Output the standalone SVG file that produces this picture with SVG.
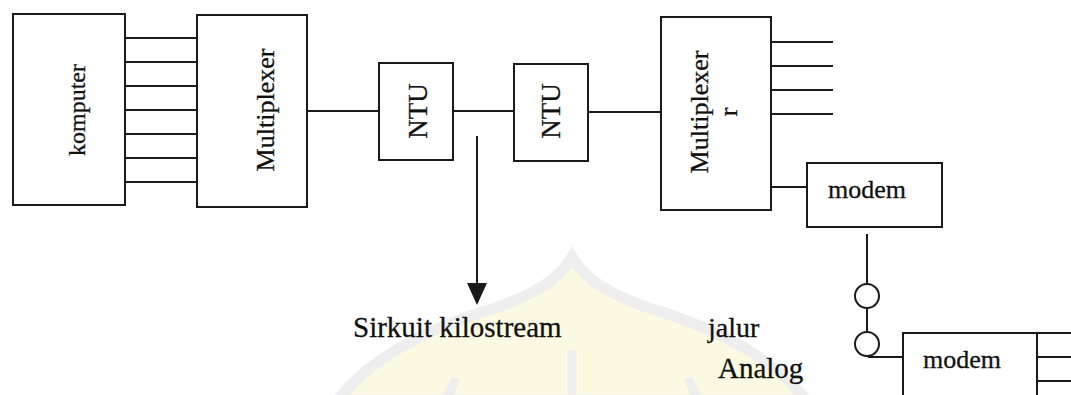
<svg xmlns="http://www.w3.org/2000/svg" width="1071" height="395" viewBox="0 0 1071 395">
  <style>
    .box { fill: none; stroke: #1a1a1a; stroke-width: 2; }
    .wire { fill: none; stroke: #1a1a1a; stroke-width: 2; }
    .head { fill: #1a1a1a; stroke: none; }
    .lbl { font-family: "Liberation Serif", "Times New Roman", serif; fill: #111; stroke: #111; stroke-width: 0.3; }
    .emblem-band { fill: #fcf9e2; stroke: #eeeeee; stroke-width: 11; }
    .emblem-line { fill: none; stroke: #eeeeee; stroke-width: 9; }
  </style>

  <rect width="1071" height="395" fill="#ffffff"/>

  <!-- faint background emblem -->
  <g id="emblem">
    <path class="emblem-band" d="M572 257 Q592 292 662 312 Q765 346 806 400 L338 400 Q379 346 482 312 Q552 292 572 257 Z"/>
    <line class="emblem-line" x1="572" y1="350" x2="572" y2="400"/>
    <line class="emblem-line" x1="456" y1="378" x2="446" y2="400"/>
    <line class="emblem-line" x1="688" y1="378" x2="698" y2="400"/>
  </g>

  <!-- connectors -->
  <g id="connectors">
    <!-- parallel lines komputer to multiplexer -->
    <line class="wire" x1="125" y1="38" x2="197" y2="38"/>
    <line class="wire" x1="125" y1="62" x2="197" y2="62"/>
    <line class="wire" x1="125" y1="86" x2="197" y2="86"/>
    <line class="wire" x1="125" y1="110" x2="197" y2="110"/>
    <line class="wire" x1="125" y1="134" x2="197" y2="134"/>
    <line class="wire" x1="125" y1="158" x2="197" y2="158"/>
    <line class="wire" x1="125" y1="182" x2="197" y2="182"/>
    <!-- trunk line through the NTUs -->
    <line class="wire" x1="307" y1="111" x2="379" y2="111"/>
    <line class="wire" x1="453" y1="111" x2="514" y2="111"/>
    <line class="wire" x1="588" y1="112" x2="661" y2="112"/>
    <!-- kilostream arrow -->
    <line class="wire" x1="477" y1="136" x2="477" y2="285"/>
    <polygon class="head" points="467,283 487,283 477,305"/>
    <!-- outputs of the far multiplexer -->
    <line class="wire" x1="771" y1="42" x2="833" y2="42"/>
    <line class="wire" x1="771" y1="66" x2="833" y2="66"/>
    <line class="wire" x1="771" y1="90" x2="833" y2="90"/>
    <line class="wire" x1="771" y1="114" x2="833" y2="114"/>
    <line class="wire" x1="771" y1="187" x2="807" y2="187"/>
    <!-- analog line between the modems -->
    <line class="wire" x1="867" y1="234" x2="867" y2="284"/>
    <circle class="wire" cx="867" cy="296" r="12"/>
    <line class="wire" x1="867" y1="308" x2="867" y2="332"/>
    <circle class="wire" cx="867" cy="344" r="12"/>
    <line class="wire" x1="868" y1="357" x2="903" y2="357"/>
    <!-- outputs of the second modem -->
    <line class="wire" x1="1037" y1="333" x2="1071" y2="333"/>
    <line class="wire" x1="1037" y1="357" x2="1071" y2="357"/>
    <line class="wire" x1="1037" y1="381" x2="1071" y2="381"/>
  </g>

  <g id="komputer">
    <rect class="box" x="13" y="14" width="112" height="191"/>
    <text class="lbl" font-size="24" text-anchor="middle" transform="translate(85 110) rotate(-90)">komputer</text>
  </g>

  <g id="multiplexer-a">
    <rect class="box" x="197" y="15" width="110" height="192"/>
    <text class="lbl" font-size="26" text-anchor="middle" transform="translate(274 110) rotate(-90)">Multiplexer</text>
  </g>

  <g id="ntu-a">
    <rect class="box" x="379" y="63" width="74" height="97"/>
    <text class="lbl" font-size="27" text-anchor="middle" transform="translate(427 111) rotate(-90)">NTU</text>
  </g>

  <g id="ntu-b">
    <rect class="box" x="514" y="64" width="74" height="97"/>
    <text class="lbl" font-size="27" text-anchor="middle" transform="translate(560 111) rotate(-90)">NTU</text>
  </g>

  <g id="multiplexer-b">
    <rect class="box" x="661" y="17" width="110" height="193"/>
    <text class="lbl" font-size="26" text-anchor="middle" transform="translate(708 112) rotate(-90)">Multiplexer</text>
    <text class="lbl" font-size="26" text-anchor="middle" transform="translate(737 112) rotate(-90)">r</text>
  </g>

  <g id="modem-a">
    <rect class="box" x="807" y="163" width="135" height="64"/>
    <text class="lbl" font-size="26" x="828" y="198">modem</text>
  </g>

  <g id="modem-b">
    <rect class="box" x="903" y="333" width="134" height="70"/>
    <text class="lbl" font-size="26" x="923" y="368">modem</text>
  </g>

  <g id="labels">
    <text class="lbl" font-size="29" x="353" y="337">Sirkuit kilostream</text>
    <text class="lbl" font-size="28" x="708" y="337">jalur</text>
    <text class="lbl" font-size="29" x="718" y="378">Analog</text>
  </g>
</svg>
